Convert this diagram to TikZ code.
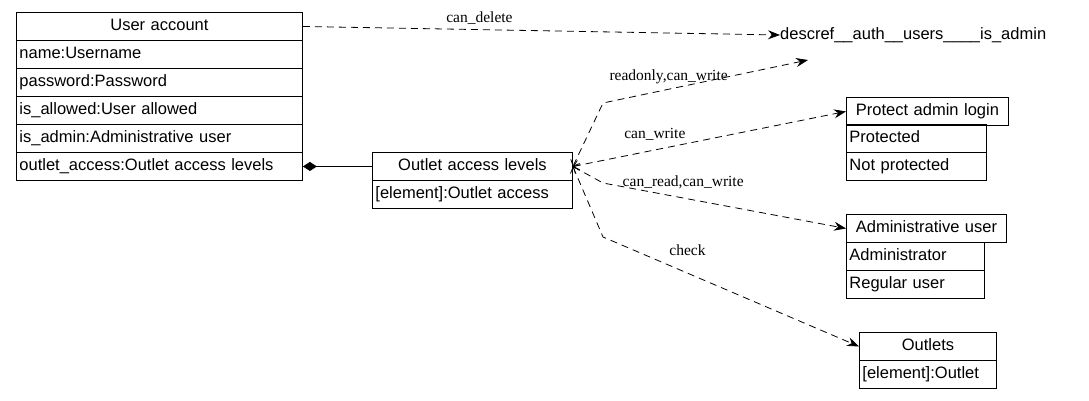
\documentclass[tikz,border=0pt]{standalone}
\usepackage{fontspec}
\setmainfont{Liberation Serif}
\newfontfamily\sansf{Liberation Sans}
\usetikzlibrary{arrows.meta}
\begin{document}
\begin{tikzpicture}[x=1pt,y=-1pt,
  cell/.style={draw,line width=0.9pt,anchor=north west,inner sep=3pt,minimum height=28pt,
    font=\sansf\fontsize{16.5}{18}\selectfont,text height=12pt,text depth=3.5pt},
  ttl/.style={cell,align=center},
  row/.style={cell,align=left},
  lbl/.style={font=\fontsize{15.5}{17}\selectfont},
  dep/.style={dashed,dash pattern=on 7pt off 5pt,line width=0.8pt,-{Stealth[length=12pt,width=9pt,inset=4pt]}},
  dep2/.style={dep,{Straight Barb[length=5pt,width=10pt]}-{Stealth[length=12pt,width=9pt,inset=4pt]}}]
\useasboundingbox (0,0) rectangle (1089,400);
% User account
\node[ttl,text width=280pt] (ua) at (16,12) {User account};
\node[row,text width=280pt] (ua1) at (16,40) {name:Username};
\node[row,text width=280pt] (ua2) at (16,68) {password:Password};
\node[row,text width=280pt] (ua3) at (16,96) {is\_allowed:User allowed};
\node[row,text width=280pt] (ua4) at (16,124) {is\_admin:Administrative user};
\node[row,text width=280pt] (ua5) at (16,152) {outlet\_access:Outlet access levels};
% Outlet access levels
\node[ttl,text width=194pt] (oa) at (372,152) {Outlet access levels};
\node[row,text width=194pt] (oa1) at (372,180) {[element]:Outlet access};
% Protect admin login
\node[ttl,text width=156pt] (pa) at (846,97) {Protect admin login};
\node[row,text width=134pt] (pa1) at (846,124) {Protected};
\node[row,text width=134pt] (pa2) at (846,152) {Not protected};
% Administrative user
\node[ttl,text width=154pt] (au) at (846,214) {Administrative user};
\node[row,text width=132pt] (au1) at (846,242) {Administrator};
\node[row,text width=132pt] (au2) at (846,270) {Regular user};
% Outlets
\node[ttl,text width=131pt] (ou) at (859,332) {Outlets};
\node[row,text width=131pt] (ou1) at (859,360) {[element]:Outlet};
% descref
\node[font=\sansf\fontsize{16.5}{18}\selectfont,anchor=west,inner sep=0pt] (ds) at (780,35) {descref\_\_auth\_\_users\_\_\_\_is\_admin};
\coordinate (dsin) at (808,60);
\coordinate (k1) at (603,103);
\coordinate (k2) at (603,183);
\coordinate (k3) at (603,237);
% connectors
\draw[line width=0.8pt,{Diamond[length=14pt,width=9pt]}-] (ua5.east) -- (oa.west);
\draw[dep] (ua.east) -- node[lbl,above,pos=0.37,yshift=1pt]{can\_delete} (ds.west);
\draw[dep2] (oa.east) -- (k1) -- node[lbl,above,pos=0.32,yshift=2pt]{readonly,can\_write} (dsin);
\draw[dep2] (oa.east) -- node[lbl,above,pos=0.3,yshift=6pt]{can\_write} (pa.west);
\draw[dep2] (oa.east) -- (k2) -- node[lbl,above,pos=0.33,yshift=5pt]{can\_read,can\_write} (au.west);
\draw[dep2] (oa.east) -- (k3) -- node[lbl,above,pos=0.33,yshift=14pt]{check} (ou.west);
\end{tikzpicture}
\end{document}
